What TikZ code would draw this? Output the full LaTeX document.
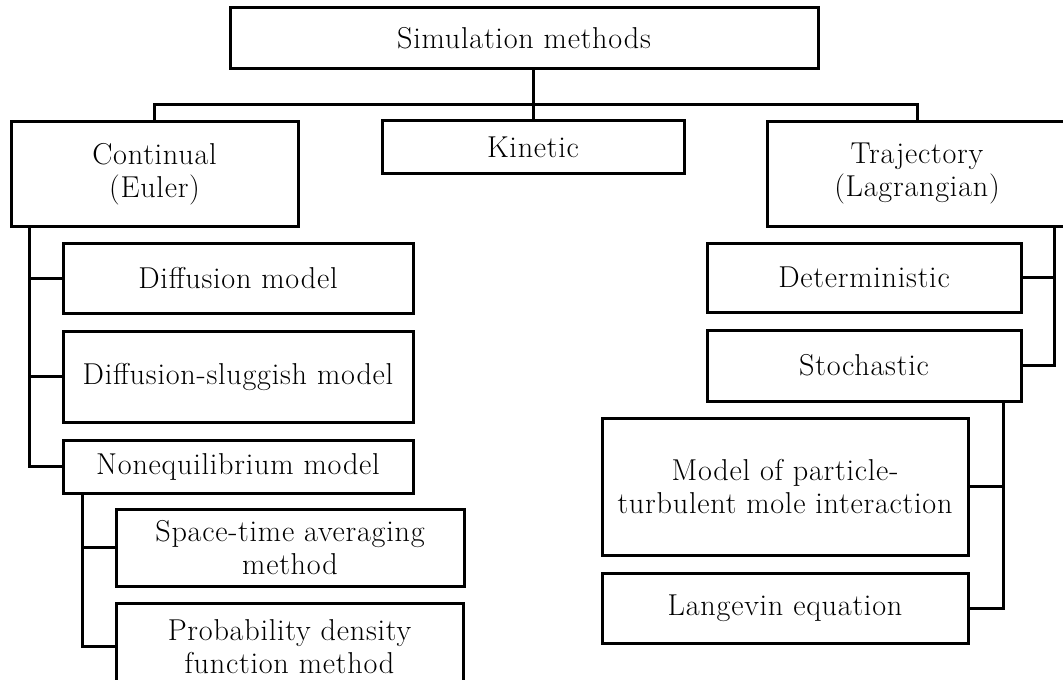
\documentclass[tikz,border=0pt]{standalone}
\usepackage{fontspec}
\setmainfont{Latin Modern Roman}[LetterSpace=2.5]
\usepackage{tikz}

\begin{document}
\begin{tikzpicture}[x=0.5pt,y=-0.5pt]
        \tikzset{box/.style = {shape=rectangle,draw,line width=1.5pt,align=center,inner sep=0pt,
            font=\fontsize{15.1}{16.5}\selectfont}}
        \tikzset{edge/.style = {line width=1.5pt}}
        \useasboundingbox (0,0) rectangle (1063,679);
        \node[box,minimum width=294pt,minimum height=30.5pt] (sim) at (524,38.5) {Simulation methods};
        \node[box,minimum width=143.5pt,minimum height=52pt] (cont) at (154.5,174) {Continual\\(Euler)};
        \node[box,minimum width=151pt,minimum height=26.5pt] (kin) at (533,147.5) {Kinetic};
        \node[box,minimum width=150pt,minimum height=52pt] (traj) at (917,174) {Trajectory\\(Lagrangian)};
        \node[box,minimum width=175pt,minimum height=35pt] (diff) at (238,278) {Diffusion model};
        \node[box,minimum width=175pt,minimum height=45.5pt] (slug) at (238,376.5) {Diffusion-sluggish model};
        \node[box,minimum width=175pt,minimum height=26.5pt] (noneq) at (238,466.5) {Nonequilibrium model};
        \node[box,minimum width=174pt,minimum height=38.5pt] (spt) at (290,547.5) {Space-time averaging\\method};
        \node[box,minimum width=173.5pt,minimum height=43.5pt] (pdf) at (289.5,646.5) {Probability density\\function method};
        \node[box,minimum width=157pt,minimum height=34.5pt] (det) at (864,277.5) {Deterministic};
        \node[box,minimum width=157pt,minimum height=35.5pt] (sto) at (864,365.5) {Stochastic};
        \node[box,minimum width=183pt,minimum height=68.5pt] (mole) at (785,486.5) {Model of particle-\\turbulent mole interaction};
        \node[box,minimum width=183pt,minimum height=35pt] (lang) at (785,608) {Langevin equation};
        % top level
        \coordinate (bus) at (533,105);
        \draw[edge] (kin.north) -- (kin.north |- sim.south);
        \draw[edge] (cont.north) |- (bus) -| (traj.north);
        % continual branch
        \coordinate (ctop) at (29,226);
        \draw[edge] (ctop) |- (noneq.west);
        \draw[edge] (diff.west) -- (diff.west -| ctop);
        \draw[edge] (slug.west) -- (slug.west -| ctop);
        \coordinate (ntop) at (82,493);
        \draw[edge] (ntop) |- (pdf.west);
        \draw[edge] (spt.west) -- (spt.west -| ntop);
        % trajectory branch
        \coordinate (ttop) at (1054,226);
        \draw[edge] (ttop) |- (sto.east);
        \draw[edge] (det.east) -- (det.east -| ttop);
        \coordinate (sbot) at (1003,401);
        \draw[edge] (sbot) |- (lang.east);
        \draw[edge] (mole.east) -- (mole.east -| sbot);
    \end{tikzpicture}
\end{document}
